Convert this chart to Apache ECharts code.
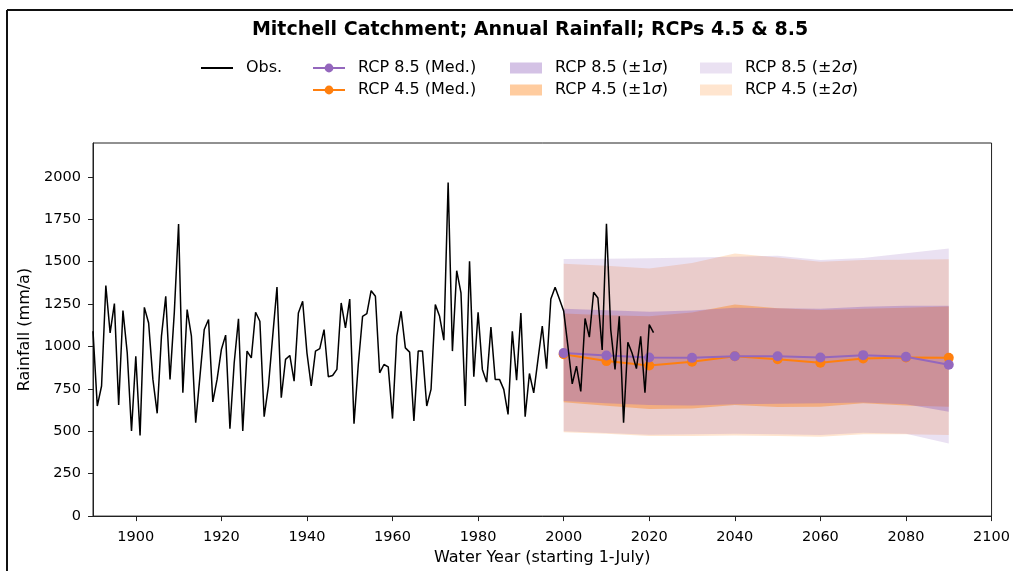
<!DOCTYPE html>
<html><head><meta charset="utf-8">
<script src="https://cdn.jsdelivr.net/npm/echarts@6/dist/echarts.min.js"></script>
<style>html,body{margin:0;padding:0;background:#fff}#c{width:1013px;height:571px}</style>
</head><body><div id="c"></div>
<script>
// ---------- data ----------
const obsStartYear = 1890;
const obsValues = [
 1090, 649, 767,1359,1080,1253, 655,1212, 963, 502,   // 1890-1899
  943, 476,1231,1139, 806, 606,1061,1296, 806,1200,   // 1900-1909
 1722, 727,1218,1061, 551, 825,1100,1159, 673, 806,   // 1910-1919
  982,1067, 516, 904,1163, 502, 973, 933,1202,1149,   // 1920-1929
  586, 767,1061,1351, 698, 924, 947, 796,1198,1267,   // 1930-1939
  963, 767, 973, 988,1100, 822, 829, 865,1257,1110,   // 1940-1949
 1280, 545, 894,1178,1194,1329,1296, 845, 894, 880,   // 1950-1959
  575,1061,1208, 992, 967, 561, 973, 973, 649, 747,   // 1960-1969
 1247,1178,1037,1967, 973,1447,1316, 649,1502, 822,   // 1970-1979
 1202, 865, 790,1114, 806, 806, 747, 600,1090, 802,   // 1980-1989
 1198, 586, 841, 727, 924,1120, 869,1280,1349,1280,   // 1990-1999
 1210,1000, 780, 884, 735,1165,1055,1320,1286, 980,   // 2000-2009
 1723,1100, 865,1178, 550,1025, 960, 870,1060, 727,   // 2010-2019
 1129,1082                                             // 2020-2021
];
const projYears   = [2000,2010,2020,2030,2040,2050,2060,2070,2080,2090];
const rcp85Med    = [ 961, 947, 935, 933, 943, 943, 935, 949, 939, 892];
const rcp45Med    = [ 955, 914, 888, 910, 943, 925, 904, 929, 935, 933];
const rcp85Lo1    = [ 678, 665, 655, 652, 660, 663, 665, 670, 660, 616];
const rcp85Hi1    = [1222,1214,1205,1212,1228,1225,1222,1235,1240,1240];
const rcp45Lo1    = [ 672, 650, 632, 635, 655, 643, 645, 665, 652, 645];
const rcp45Hi1    = [1195,1185,1178,1200,1248,1225,1215,1222,1228,1236];
const rcp85Lo2    = [ 500, 490, 480, 482, 485, 482, 478, 492, 485, 428];
const rcp85Hi2    = [1516,1518,1520,1525,1530,1535,1510,1522,1550,1578];
const rcp45Lo2    = [ 494, 485, 472, 472, 475, 472, 468, 482, 482, 478];
const rcp45Hi2    = [1488,1476,1460,1492,1549,1525,1500,1510,1512,1515];
const xTicks = [1900,1920,1940,1960,1980,2000,2020,2040,2060,2080,2100];
const yTicks = [0,250,500,750,1000,1250,1500,1750,2000];

// ---------- chart ----------
const FONT = 'DejaVu Sans';
const PURPLE = '#9467bd', ORANGE = '#ff7f0e';
const obsData = obsValues.map((v,i)=>[obsStartYear+i, v]);

function band(name, lo, hi, color, z){
  return {
    name, type:'custom', z, silent:true, animation:false,
    itemStyle:{color},
    data: projYears.map((y,i)=>[y, lo[i], hi[i]]),
    encode:{x:0, y:[1,2]},
    renderItem(params, api){
      if (params.dataIndex !== 0) return null;
      const pts=[];
      for (let i=0;i<projYears.length;i++) pts.push(api.coord([projYears[i], hi[i]]));
      for (let i=projYears.length-1;i>=0;i--) pts.push(api.coord([projYears[i], lo[i]]));
      return {type:'polygon', shape:{points:pts}, style:{fill:color}};
    }
  };
}

const LF = 16;
const legTxt = {fontFamily:FONT, fontSize:LF, color:'#000', padding:[0,0,0,8],
  rich:{i:{fontFamily:FONT, fontSize:LF, fontStyle:'italic', color:'#000'}}};
function leg(item, left, top){
  return {data:[item], left, top, padding:0, itemWidth:32, itemHeight:11,
    textStyle:legTxt, selectedMode:false,
    formatter: n => n.replace('σ','{i|σ}')};
}
const R1 = 60, R2 = 82;
const numFmt = v => String(v);

const option = {
  animation:false,
  backgroundColor:'#fff',
  title:{text:'Mitchell Catchment; Annual Rainfall; RCPs 4.5 & 8.5', left:530, top:21, textAlign:'center', padding:0,
    textStyle:{fontFamily:FONT, fontSize:19, fontWeight:'bold', color:'#000'}},
  legend:[
    leg({name:'Obs.', itemStyle:{opacity:0}}, 200, R1),
    leg({name:'RCP 8.5 (Med.)'}, 312, R1),
    leg({name:'RCP 4.5 (Med.)'}, 312, R2),
    leg({name:'RCP 8.5 (±1σ)', icon:'rect'}, 510, R1),
    leg({name:'RCP 4.5 (±1σ)', icon:'rect'}, 510, R2),
    leg({name:'RCP 8.5 (±2σ)', icon:'rect'}, 700, R1),
    leg({name:'RCP 4.5 (±2σ)', icon:'rect'}, 700, R2)
  ],
  grid:{left:93, right:21, top:143, bottom:54, show:true, borderColor:'#222', borderWidth:1, backgroundColor:'transparent'},
  xAxis:{type:'value', min:1890, max:2100,
    name:'Water Year (starting 1-July)', nameLocation:'middle', nameGap:31,
    nameTextStyle:{fontFamily:FONT, fontSize:16, color:'#000'},
    axisLine:{show:true, lineStyle:{color:'#222', width:1}},
    axisTick:{show:true, length:5, lineStyle:{color:'#222'}, customValues:xTicks},
    axisLabel:{fontFamily:FONT, fontSize:14.5, color:'#000', margin:14, customValues:xTicks, formatter:numFmt},
    splitLine:{show:false}},
  yAxis:{type:'value', min:0, max:2200,
    name:'Rainfall (mm/a)', nameLocation:'middle', nameGap:53, nameRotate:90,
    nameTextStyle:{fontFamily:FONT, fontSize:16, color:'#000'},
    axisLine:{show:true, lineStyle:{color:'#222', width:1}},
    axisTick:{show:true, length:5, lineStyle:{color:'#222'}, customValues:yTicks},
    axisLabel:{fontFamily:FONT, fontSize:14.5, color:'#000', margin:12, customValues:yTicks, formatter:numFmt},
    splitLine:{show:false}},
  series:[
    band('RCP 4.5 (±2σ)', rcp45Lo2, rcp45Hi2, 'rgba(255,127,14,0.2)', 1),
    band('RCP 8.5 (±2σ)', rcp85Lo2, rcp85Hi2, 'rgba(148,103,189,0.2)', 1),
    band('RCP 4.5 (±1σ)', rcp45Lo1, rcp45Hi1, 'rgba(255,127,14,0.4)', 1),
    band('RCP 8.5 (±1σ)', rcp85Lo1, rcp85Hi1, 'rgba(148,103,189,0.4)', 1),
    {name:'RCP 4.5 (Med.)', type:'line', z:3, data:projYears.map((y,i)=>[y, rcp45Med[i]]),
      symbol:'circle', symbolSize:10, itemStyle:{color:ORANGE}, lineStyle:{color:ORANGE, width:2}},
    {name:'RCP 8.5 (Med.)', type:'line', z:4, data:projYears.map((y,i)=>[y, rcp85Med[i]]),
      symbol:'circle', symbolSize:10, itemStyle:{color:PURPLE}, lineStyle:{color:PURPLE, width:2}},
    {name:'Obs.', type:'line', z:5, data:obsData, symbol:'none', itemStyle:{color:'#000'},
      lineStyle:{color:'#000', width:1.5}}
  ],
  graphic:[
    {type:'line', shape:{x1:7, y1:10, x2:1013, y2:10}, style:{stroke:'#111', lineWidth:2}},
    {type:'line', shape:{x1:7, y1:10, x2:7, y2:571}, style:{stroke:'#111', lineWidth:2}}
  ]
};
const chart = echarts.init(document.getElementById('c'), null, {renderer:'canvas'});
chart.setOption(option);
</script></body></html>
